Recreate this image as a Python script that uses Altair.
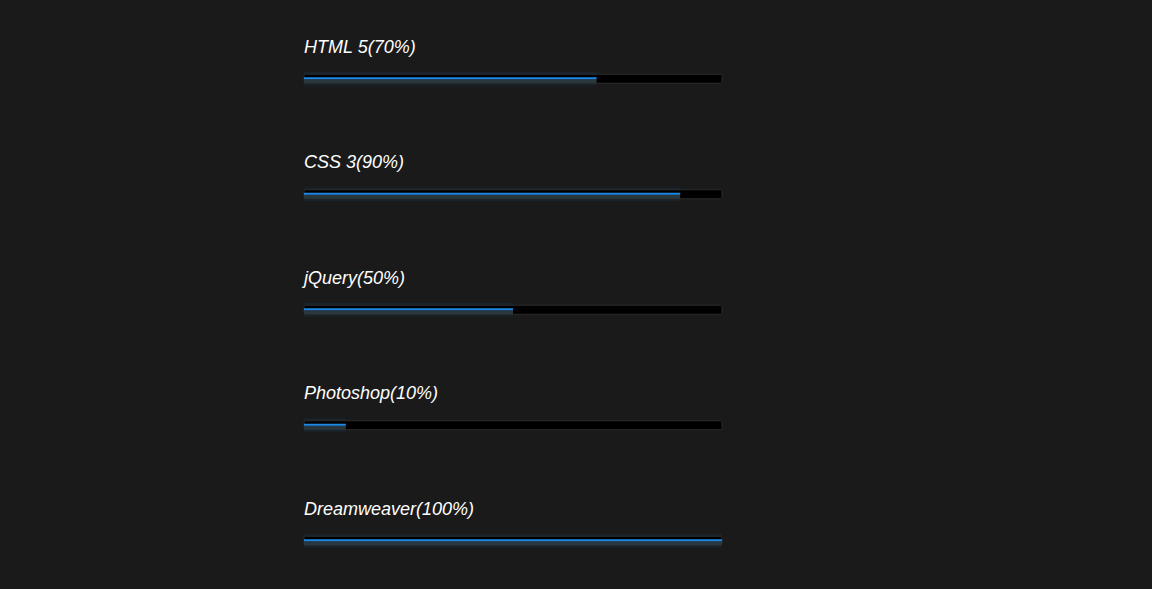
import altair as alt
import pandas as pd

skills = ["HTML 5", "CSS 3", "jQuery", "Photoshop", "Dreamweaver"]
values = [70, 90, 50, 10, 100]
labels = ["HTML 5(70%)", "CSS 3(90%)", "jQuery(50%)", "Photoshop(10%)", "Dreamweaver(100%)"]

df = pd.DataFrame({"skill": skills, "value": values, "label": labels})
df["start"] = 0
df["full"] = 100

xs = alt.Scale(domain=[0, 100], nice=False, zero=True)
ys = alt.Scale(domain=skills, paddingInner=0, paddingOuter=0)
Y = alt.Y("skill:N", scale=ys, axis=None, sort=skills)

base = alt.Chart(df)

track = base.mark_bar(color="#000000", size=9, yOffset=16, cornerRadius=2,
                      stroke="#2c2c2c", strokeWidth=1).encode(
    x=alt.X("start:Q", scale=xs, axis=None), x2="full:Q", y=Y)

glow = base.mark_bar(color="#1e88e5", size=14, yOffset=16, opacity=0.08).encode(
    x=alt.X("start:Q", scale=xs, axis=None), x2="value:Q", y=Y)

under = base.mark_bar(color="#2a373c", size=4, yOffset=18.5).encode(
    x=alt.X("start:Q", scale=xs, axis=None), x2="value:Q", y=Y)

line = base.mark_rule(color="#1e88e5", strokeWidth=2, yOffset=15.5).encode(
    x=alt.X("start:Q", scale=xs, axis=None), x2="value:Q", y=Y)

text = base.mark_text(align="left", baseline="middle", dy=-15, fontSize=18,
                      fontStyle="italic", font="Liberation Sans", color="#ffffff").encode(
    x=alt.X("start:Q", scale=xs, axis=None), y=Y, text="label:N")

chart = alt.layer(glow, track, under, line, text).properties(
    width=418, height=577.5,
    padding={"left": 304, "top": 5, "right": 430, "bottom": 6},
    autosize=alt.AutoSizeParams(type="none"),
    background="#1a1a1a",
).configure_view(stroke=None)

chart.save("out.html", embed_options={"renderer": "svg", "actions": False})
